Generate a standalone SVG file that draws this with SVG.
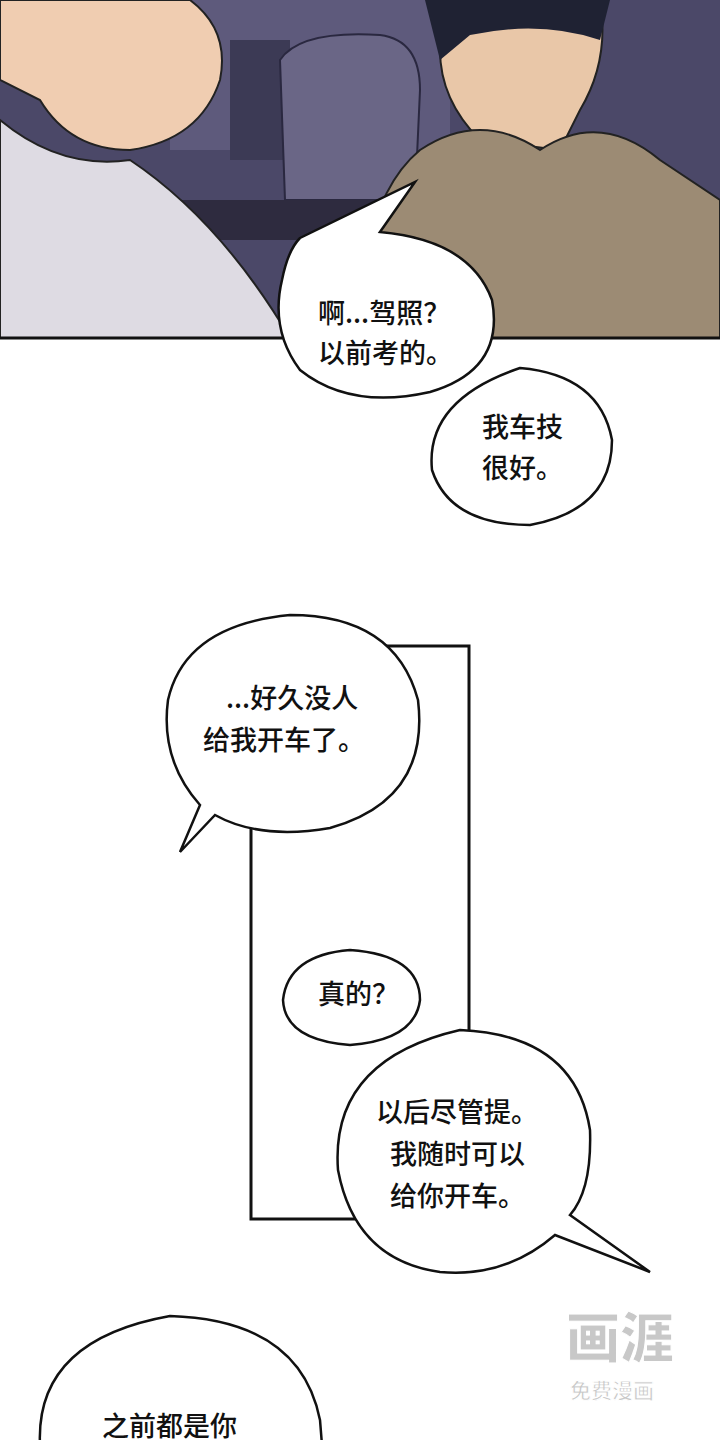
<svg xmlns="http://www.w3.org/2000/svg" width="720" height="1440" viewBox="0 0 720 1440">
<style>
.b{fill:#fff;stroke:#111;stroke-width:2.5}
.t{font-family:"Noto Sans CJK SC","Noto Sans",sans-serif;font-size:27px;font-weight:500;fill:#111}
</style>
<rect width="720" height="1440" fill="#fff"/>
<g id="scene">
<rect x="0" y="0" width="720" height="338" fill="#4b4868"/>
<rect x="170" y="0" width="280" height="150" fill="#5e5a7c"/>
<rect x="230" y="40" width="60" height="120" fill="#3c3a55"/>
<path d="M280 60 Q300 30 380 35 Q420 40 420 90 L415 200 L285 200 Z" fill="#6a6686" stroke="#2a2840" stroke-width="2"/>
<rect x="160" y="200" width="240" height="40" fill="#2e2b3f"/>
<path d="M440 0 L600 0 Q610 60 580 110 L560 150 L480 140 Q440 100 440 50 Z" fill="#e9c7a8" stroke="#222" stroke-width="2"/>
<path d="M425 0 L610 0 L600 40 Q540 20 470 35 L440 60 Z" fill="#1f2233"/>
<path d="M360 338 Q360 200 420 150 Q480 110 540 150 Q600 110 660 160 L720 200 L720 338 Z" fill="#9c8b74" stroke="#222" stroke-width="2"/>
<path d="M0 0 L190 0 Q230 30 220 80 Q200 140 130 150 Q70 150 40 100 L0 80 Z" fill="#f0cdb1" stroke="#222" stroke-width="2"/>
<path d="M0 120 Q60 170 130 160 Q220 220 290 338 L0 338 Z" fill="#dedbe3" stroke="#222" stroke-width="2"/>
<line x1="0" y1="338" x2="720" y2="338" stroke="#111" stroke-width="3"/>
</g>
<g id="panel"><rect x="251" y="646" width="218" height="573" fill="none" stroke="#111" stroke-width="3"/></g>
<g id="bubble1">
<path class="b" d="M300 238 L415 182 L380 232 Q470 240 492 300 Q505 370 430 392 Q350 410 300 370 Q270 330 282 280 Q288 250 300 238 Z"/>
<text class="t" x="318" y="323">啊...驾照？</text>
<text class="t" x="318" y="363">以前考的。</text>
</g>
<g id="bubble2">
<path class="b" d="M520 368 Q600 375 612 440 Q612 510 530 525 Q450 525 432 470 Q425 400 520 368 Z"/>
<text class="t" x="482" y="437">我车技</text>
<text class="t" x="482" y="478">很好。</text>
</g>
<g id="bubble3">
<path class="b" d="M290 615 Q395 615 418 700 Q430 800 330 828 Q260 840 215 815 L180 852 L200 805 Q160 760 168 700 Q185 625 290 615 Z"/>
<text class="t" x="226" y="708">...好久没人</text>
<text class="t" x="203" y="750">给我开车了。</text>
</g>
<g id="bubble4">
<path class="b" d="M350 950 Q420 955 420 1000 Q415 1040 350 1045 Q285 1040 283 1000 Q288 955 350 950 Z"/>
<text class="t" x="318" y="1004">真的？</text>
</g>
<g id="bubble5">
<path class="b" d="M460 1030 Q575 1035 590 1130 Q592 1190 570 1215 L650 1272 L555 1235 Q505 1278 440 1272 Q355 1260 338 1170 Q330 1060 460 1030 Z"/>
<text class="t" x="376" y="1122">以后尽管提。</text>
<text class="t" x="390" y="1164">我随时可以</text>
<text class="t" x="390" y="1206">给你开车。</text>
</g>
<g id="bubble6">
<path class="b" d="M170 1316 Q300 1320 320 1420 L322 1445 L40 1445 Q35 1340 170 1316 Z"/>
<text class="t" x="102" y="1436" font-size="25">之前都是你</text>
</g>
<g id="watermark" font-family="Noto Sans CJK SC,sans-serif" fill="#c8c8c8" stroke="#fff" stroke-width="1">
<text x="566" y="1358" font-size="54" font-weight="900">画涯</text>
<text x="570" y="1398" font-size="21" font-weight="700">免费漫画</text>
</g>
</svg>
